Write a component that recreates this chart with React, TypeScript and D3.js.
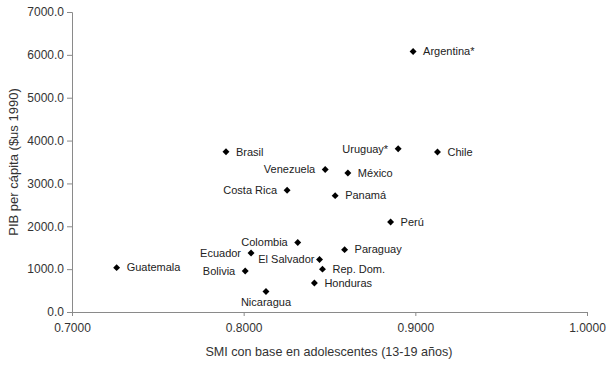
import React, { useEffect, useRef } from 'react';
import * as d3 from 'd3';

// SMI (adolescents) vs GDP per capita, Latin America
const countries = [
  'Argentina*', 'Brasil', 'Uruguay*', 'Chile', 'Venezuela', 'México', 'Costa Rica', 'Panamá', 'Perú',
  'Colombia', 'Ecuador', 'Paraguay', 'El Salvador', 'Bolivia', 'Rep. Dom.', 'Honduras', 'Nicaragua', 'Guatemala',
];
const smi = [
  0.8987, 0.7897, 0.8900, 0.9129, 0.8475, 0.8607, 0.8253, 0.8533, 0.8856,
  0.8315, 0.8043, 0.8588, 0.8442, 0.8009, 0.8459, 0.8412, 0.8130, 0.7260,
];
const pib = [
  6080, 3740, 3810, 3735, 3325, 3245, 2840, 2715, 2100,
  1620, 1375, 1455, 1225, 955, 1000, 675, 480, 1035,
];
const xTicks = [0.7, 0.8, 0.9, 1.0];
const yTicks = [0, 1000, 2000, 3000, 4000, 5000, 6000, 7000];

// where each label sits relative to its marker
const leftLabels = ['Uruguay*', 'Venezuela', 'Costa Rica', 'Colombia', 'Ecuador', 'El Salvador', 'Bolivia'];
const belowLabels = ['Nicaragua'];

const W = 608;
const H = 366;
const margin = { top: 12, right: 21, bottom: 54, left: 72 };

export default function App() {
  const ref = useRef<SVGSVGElement>(null);

  useEffect(() => {
    const svg = d3.select(ref.current);
    svg.selectAll('*').remove();

    const x = d3.scaleLinear().domain([0.7, 1.0]).range([margin.left, W - margin.right]);
    const y = d3.scaleLinear().domain([0, 7000]).range([H - margin.bottom, margin.top]);

    const font = 'Liberation Sans, Arial, sans-serif';
    const axisColor = '#8a8a8a';
    const textColor = '#333';

    // x axis
    const gx = svg.append('g')
      .attr('transform', `translate(0,${y(0)})`)
      .call(d3.axisBottom(x).tickValues(xTicks).tickFormat(d3.format('.4f')).tickSizeOuter(0).tickSize(4));
    gx.select('.domain').attr('stroke', axisColor);
    gx.selectAll('.tick line').attr('stroke', axisColor);
    gx.selectAll('.tick text')
      .attr('fill', textColor)
      .attr('font-size', 12)
      .attr('font-family', font)
      .attr('dy', '1.05em');

    // y axis
    const gy = svg.append('g')
      .attr('transform', `translate(${x(0.7)},0)`)
      .call(d3.axisLeft(y).tickValues(yTicks).tickFormat(d3.format('.1f')).tickSizeOuter(0).tickSize(5));
    gy.select('.domain').attr('stroke', axisColor);
    gy.selectAll('.tick line').attr('stroke', axisColor);
    gy.selectAll('.tick text')
      .attr('fill', textColor)
      .attr('font-size', 12)
      .attr('font-family', font)
      .attr('x', -8);

    // axis titles
    svg.append('text')
      .attr('x', 329)
      .attr('y', 356)
      .attr('text-anchor', 'middle')
      .attr('font-size', 12.6)
      .attr('font-family', font)
      .attr('fill', textColor)
      .text('SMI con base en adolescentes (13-19 años)');

    svg.append('text')
      .attr('transform', `translate(18,162) rotate(-90)`)
      .attr('text-anchor', 'middle')
      .attr('font-size', 13)
      .attr('font-family', font)
      .attr('fill', textColor)
      .text('PIB per cápita ($us 1990)');

    const pts = countries.map((name, i) => ({ name, sx: smi[i], py: pib[i] }));

    // diamond markers
    const diamond = d3.symbol().type(d3.symbolSquare).size(24);
    svg.append('g')
      .selectAll('path')
      .data(pts)
      .join('path')
      .attr('d', diamond)
      .attr('transform', d => `translate(${x(d.sx)},${y(d.py)}) rotate(45)`)
      .attr('fill', '#000');

    // labels
    svg.append('g')
      .selectAll('text')
      .data(pts)
      .join('text')
      .attr('font-size', 11)
      .attr('font-family', font)
      .attr('fill', '#222')
      .attr('x', d => {
        if (belowLabels.includes(d.name)) return x(d.sx);
        if (d.name === 'El Salvador') return x(d.sx) - 5;
        if (leftLabels.includes(d.name)) return x(d.sx) - 10;
        return x(d.sx) + 10;
      })
      .attr('y', d => belowLabels.includes(d.name) ? y(d.py) + 11 : y(d.py))
      .attr('dy', '0.35em')
      .attr('text-anchor', d => belowLabels.includes(d.name) ? 'middle' : leftLabels.includes(d.name) ? 'end' : 'start')
      .text(d => d.name);
  }, []);

  return (
    <svg
      ref={ref}
      width={W}
      height={H}
      style={{ position: 'absolute', left: 0, top: 0, background: '#fff' }}
    />
  );
}
